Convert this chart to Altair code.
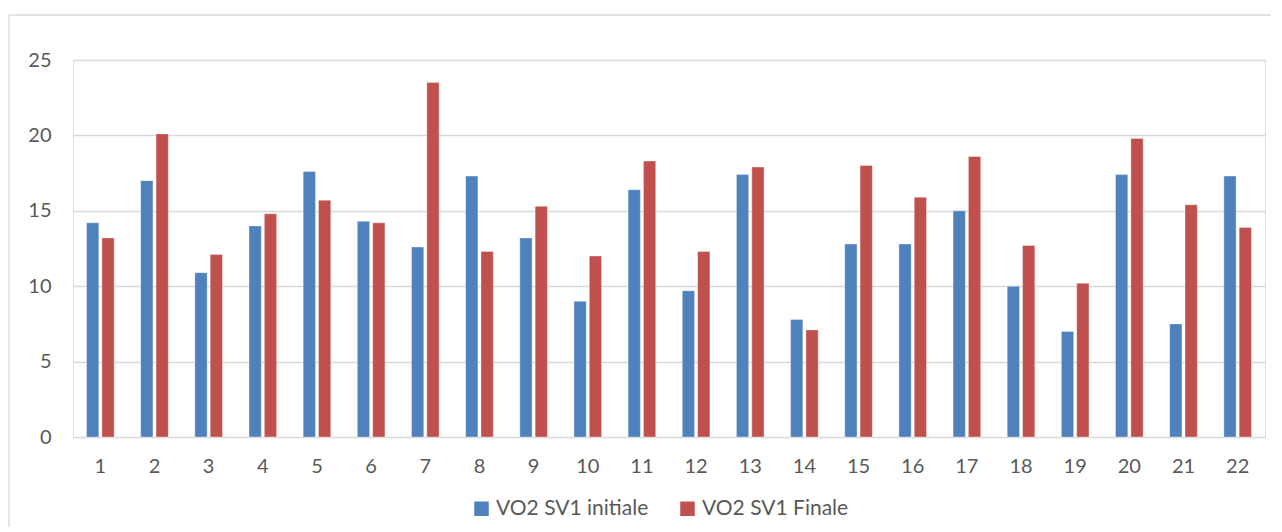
import altair as alt
import pandas as pd

categories = [str(i) for i in range(1, 23)]
initiale = [14.2, 17.0, 10.9, 14.0, 17.6, 14.3, 12.6, 17.3, 13.2, 9.0, 16.4,
            9.7, 17.4, 7.8, 12.8, 12.8, 15.0, 10.0, 7.0, 17.4, 7.5, 17.3]
finale = [13.2, 20.1, 12.1, 14.8, 15.7, 14.2, 23.5, 12.3, 15.3, 12.0, 18.3,
          12.3, 17.9, 7.1, 18.0, 15.9, 18.6, 12.7, 10.2, 19.8, 15.4, 13.9]
series_names = ["VO2 SV1 initiale", "VO2 SV1 Finale"]
series_colors = ["#4F81BD", "#C0504D"]

rows = []
for c, a, b in zip(categories, initiale, finale):
    rows.append({"cat": c, "serie": series_names[0], "val": a})
    rows.append({"cat": c, "serie": series_names[1], "val": b})
df = pd.DataFrame(rows)

FONT = "Lato"
TXT = "#595959"
FS = 20

bars = alt.Chart(df).mark_bar(stroke="white", strokeWidth=0.6, strokeOpacity=0.6).encode(
    x=alt.X("cat:N", sort=categories, title=None,
            scale=alt.Scale(paddingInner=0.49, paddingOuter=0.25),
            axis=alt.Axis(labelAngle=0, domain=False, ticks=False, grid=False,
                          labelPadding=19, labelFontSize=FS, labelColor=TXT,
                          labelFont=FONT)),
    xOffset=alt.XOffset("serie:N", sort=series_names,
                        scale=alt.Scale(paddingInner=0.2, paddingOuter=0)),
    y=alt.Y("val:Q", title=None,
            scale=alt.Scale(domain=[0, 25], nice=False),
            axis=alt.Axis(values=[0, 5, 10, 15, 20, 25], domain=False, ticks=False,
                          grid=True, gridColor="#D9D9D9", gridWidth=1.3,
                          labelPadding=22, labelFontSize=FS, labelColor=TXT,
                          labelFont=FONT)),
    color=alt.Color("serie:N", sort=series_names,
                    scale=alt.Scale(domain=series_names, range=series_colors),
                    legend=alt.Legend(title=None, orient="none", direction="horizontal",
                                      legendX=398, legendY=438,
                                      symbolType="square", symbolSize=210,
                                      symbolStrokeWidth=0,
                                      labelFontSize=21, labelColor=TXT, labelFont=FONT,
                                      columnPadding=28, labelOffset=4)),
)

border = alt.Chart(alt.Data(values=[{}])).mark_rule(color="#D9D9D9", strokeWidth=1.3).encode(
    x=alt.value(-64), y=alt.value(-45), y2=alt.value(600)
)
border_top = alt.Chart(alt.Data(values=[{}])).mark_rule(color="#D9D9D9", strokeWidth=1.3).encode(
    x=alt.value(-64), x2=alt.value(1300), y=alt.value(-45)
)

chart = alt.layer(bars, border, border_top).properties(
    width=1192, height=377,
    autosize=alt.AutoSizeParams(type="none"),
    padding={"left": 65, "top": 52, "right": 6, "bottom": 90},
).configure_view(stroke="transparent", strokeWidth=0).configure(background="white")

chart.save("out.html", embed_options={"renderer": "svg", "actions": False})
